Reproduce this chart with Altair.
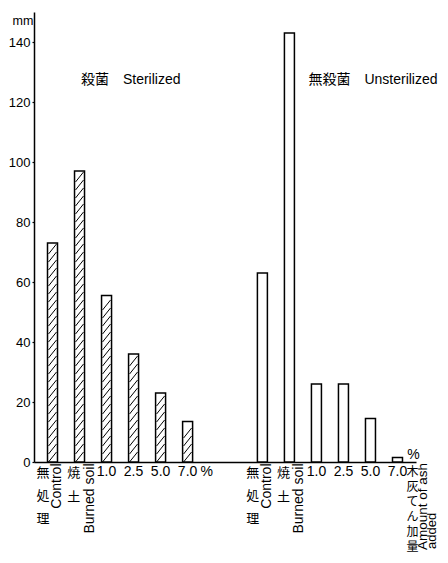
import altair as alt
import pandas as pd

# ---- data ----
groups = ["殺菌", "無殺菌"]
group_titles = ["殺菌　Sterilized", "無殺菌　Unsterilized"]
treat_keys = [0, 1, 2, 3, 4, 5]
sterilized = [73, 97, 55.5, 36, 23, 13.5]
unsterilized = [63, 143, 26, 26, 14.5, 1.5]
jp_labels = ["無\n処\n理", "焼\n\n土", "", "", "", ""]
en_labels = ["Control", "Burned soil", "", "", "", ""]
num_labels = ["", "", "1.0", "2.5", "5.0", "7.0"]
y_ticks = [0, 20, 40, 60, 80, 100, 120, 140]
unit = "mm"
percent = "%"
ash_jp = "木\n灰\nて\nん\n加\n量"
ash_en1 = "Amount of ash"
ash_en2 = "added"

rows = []
for g, t, vals in zip(groups, group_titles, [sterilized, unsterilized]):
    for k, v, jl, el, nl in zip(treat_keys, vals, jp_labels, en_labels, num_labels):
        rows.append(dict(group=g, title=t, key=k, value=v, jp=jl, en=el, num=nl))
df = pd.DataFrame(rows)

FONT = "Liberation Sans, Noto Sans CJK JP, sans-serif"
HATCH = "M -0.667 0.833 L 0.667 -0.833"

X = alt.X("group:N", sort=groups,
          scale=alt.Scale(paddingInner=0.18, paddingOuter=0),
          axis=alt.Axis(title=None, labels=False, ticks=False,
                        domainColor="black", domainWidth=1.5))
XO = alt.XOffset("key:O", scale=alt.Scale(paddingInner=0.63, paddingOuter=0.5))
Y = alt.Y("value:Q", scale=alt.Scale(domain=[0, 150], nice=False),
          axis=alt.Axis(values=y_ticks, title=unit, titleAngle=0, titleAlign="left",
                        titleX=-22, titleY=8, titleBaseline="middle", titleFont=FONT,
                        titleFontSize=12.5, titleFontWeight="normal", titleColor="black",
                        labelFont=FONT, labelFontSize=13, labelColor="black",
                        tickColor="black", tickSize=2, tickWidth=1.2, labelPadding=2,
                        domainColor="black", domainWidth=1.5, grid=False))

base = alt.Chart(df)

bars = base.mark_bar(fill="white", stroke="black", strokeWidth=1.5).encode(x=X, xOffset=XO, y=Y)

hatch = (
    base.transform_filter(alt.datum.group == groups[0])
    .transform_calculate(hs="sequence(5/3, datum.value - 1.5, 8/3)")
    .transform_flatten(["hs"])
    .transform_calculate(value="datum.hs")
    .mark_point(shape=HATCH, size=144, filled=False, stroke="black",
                strokeWidth=1, opacity=1)
    .encode(x=X, xOffset=XO, y=Y)
)


def label(filter_expr, field, **props):
    p = dict(font=FONT, fontSize=14, color="black")
    p.update(props)
    return (
        base.transform_filter(filter_expr)
        .mark_text(**p)
        .encode(x=X, xOffset=XO, y=alt.datum(0), text=f"{field}:N")
    )


nums = label("datum.key >= 2", "num", baseline="middle", align="center", dy=10)
jp0 = label("datum.key == 0", "jp", fontSize=13, baseline="top", align="center",
            lineBreak="\n", lineHeight=23, dx=-9.6, dy=5)
jp1 = label("datum.key == 1", "jp", fontSize=13, baseline="top", align="center",
            lineBreak="\n", lineHeight=23.5, dx=-5.8, dy=5)
en0 = label("datum.key == 0", "en", angle=270, align="right", baseline="middle",
            dx=-1.5, dy=4.7)
en1 = label("datum.key == 1", "en", angle=270, align="right", baseline="middle",
            dx=-1.5, dy=10)


def fixed(filter_expr, text, **props):
    p = dict(font=FONT, fontSize=14, color="black")
    p.update(props)
    return (
        base.transform_filter(filter_expr)
        .mark_text(text=text, **p)
        .encode(x=X, xOffset=XO, y=alt.datum(0))
    )


last_s = f"datum.key == 5 && datum.group == '{groups[0]}'"
last_u = f"datum.key == 5 && datum.group == '{groups[1]}'"
pct_s = fixed(last_s, percent, baseline="middle", dx=19, dy=10)
pct_u = fixed(last_u, percent, baseline="middle", dx=16, dy=-7)
ash1 = fixed(last_u, ash_jp, fontSize=12, baseline="top", lineBreak="\n",
             lineHeight=15, dx=15, dy=5)
ash2 = fixed(last_u, ash_en1, fontSize=13.5, angle=270, align="right", baseline="middle",
             dx=-1, dy=26)
ash3 = fixed(last_u, ash_en2, fontSize=13, angle=270, align="left", baseline="middle",
             dx=-87, dy=35)

title_s = (
    base.transform_filter(f"datum.key == 0 && datum.group == '{groups[0]}'")
    .mark_text(font=FONT, fontSize=14, color="black", align="left", baseline="middle", dx=28.4)
    .encode(x=X, xOffset=XO, y=alt.value(68), text="title:N")
)
title_u = (
    base.transform_filter(f"datum.key == 0 && datum.group == '{groups[1]}'")
    .mark_text(font=FONT, fontSize=14, color="black", align="left", baseline="middle", dx=46)
    .encode(x=X, xOffset=XO, y=alt.value(68), text="title:N")
)

chart = (
    alt.layer(bars, hatch, nums, jp0, jp1, en0, en1, pct_s, pct_u, ash1, ash2, ash3,
              title_s, title_u)
    .properties(width=382, height=450,
                autosize=alt.AutoSizeParams(type="none"),
                padding={"left": 26, "top": 4, "right": 24, "bottom": 93},
                background="white")
    .configure_view(stroke=None)
)

chart.save("out.html", embed_options={"renderer": "svg", "actions": False})
